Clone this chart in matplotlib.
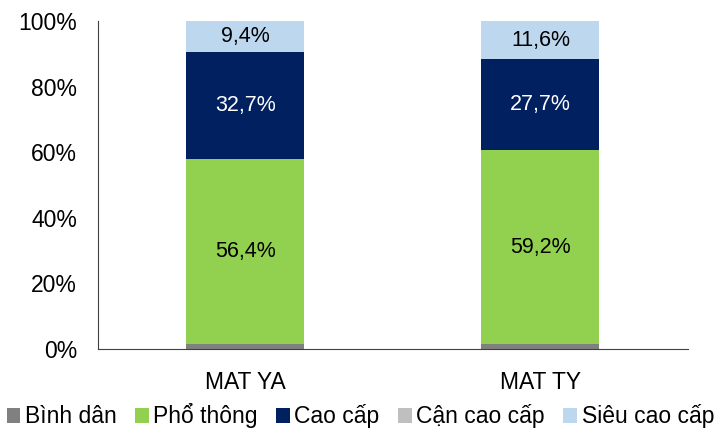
import matplotlib.pyplot as plt
import numpy as np

plt.rcParams['font.family'] = ['Liberation Sans', 'DejaVu Sans']

# Dados
categorias = ['MAT YA', 'MAT TY']
series = ['Bình dân', 'Phổ thông', 'Cao cấp', 'Cận cao cấp', 'Siêu cao cấp']
binh_dan = [1.5, 1.5]
pho_thong = [56.4, 59.2]
cao_cap = [32.7, 27.7]
can_cao_cap = [0.0, 0.0]
sieu_cao_cap = [9.4, 11.6]
valores = [binh_dan, pho_thong, cao_cap, can_cao_cap, sieu_cao_cap]
cores = ['#808080', '#92D050', '#002060', '#BFBFBF', '#BDD7EE']
cores_texto = [None, 'black', 'white', None, 'black']

fig = plt.figure(figsize=(7.28, 4.30), dpi=100)
ax = fig.add_axes([0.1346, 0.1884, 0.8104, 0.7626])

x = np.arange(len(categorias))
base = np.zeros(len(categorias))
for nome, vals, cor, ct in zip(series, valores, cores, cores_texto):
    vals = np.array(vals)
    ax.bar(x, vals, 0.4, bottom=base, color=cor, label=nome)
    if ct is not None:
        for xi, b, v in zip(x, base, vals):
            ax.text(xi, b + v / 2, f'{v:.1f}%'.replace('.', ','), ha='center',
                    va='center', fontsize=15.5, color=ct)
    base = base + vals

ax.set_xlim(-0.5, 1.5)
ax.set_ylim(0, 100)
ax.set_yticks(range(0, 101, 20))
ax.set_yticklabels([f'{v}%' for v in range(0, 101, 20)])
ax.set_xticks(x)
ax.set_xticklabels(categorias)
ax.tick_params(axis='both', length=0, labelsize=16.5)
ax.tick_params(axis='x', pad=16)
ax.tick_params(axis='y', pad=15)
ax.spines['top'].set_visible(False)
ax.spines['right'].set_visible(False)
ax.spines['left'].set_color('#404040')
ax.spines['bottom'].set_color('#404040')

fig.legend(loc='center', bbox_to_anchor=(0.495, 0.033), ncol=5, frameon=False,
           fontsize=16.5, handlelength=0.6, handleheight=0.6, handletextpad=0.2,
           columnspacing=0.8, borderaxespad=0, borderpad=0)

fig.savefig('out.png', dpi=100)
